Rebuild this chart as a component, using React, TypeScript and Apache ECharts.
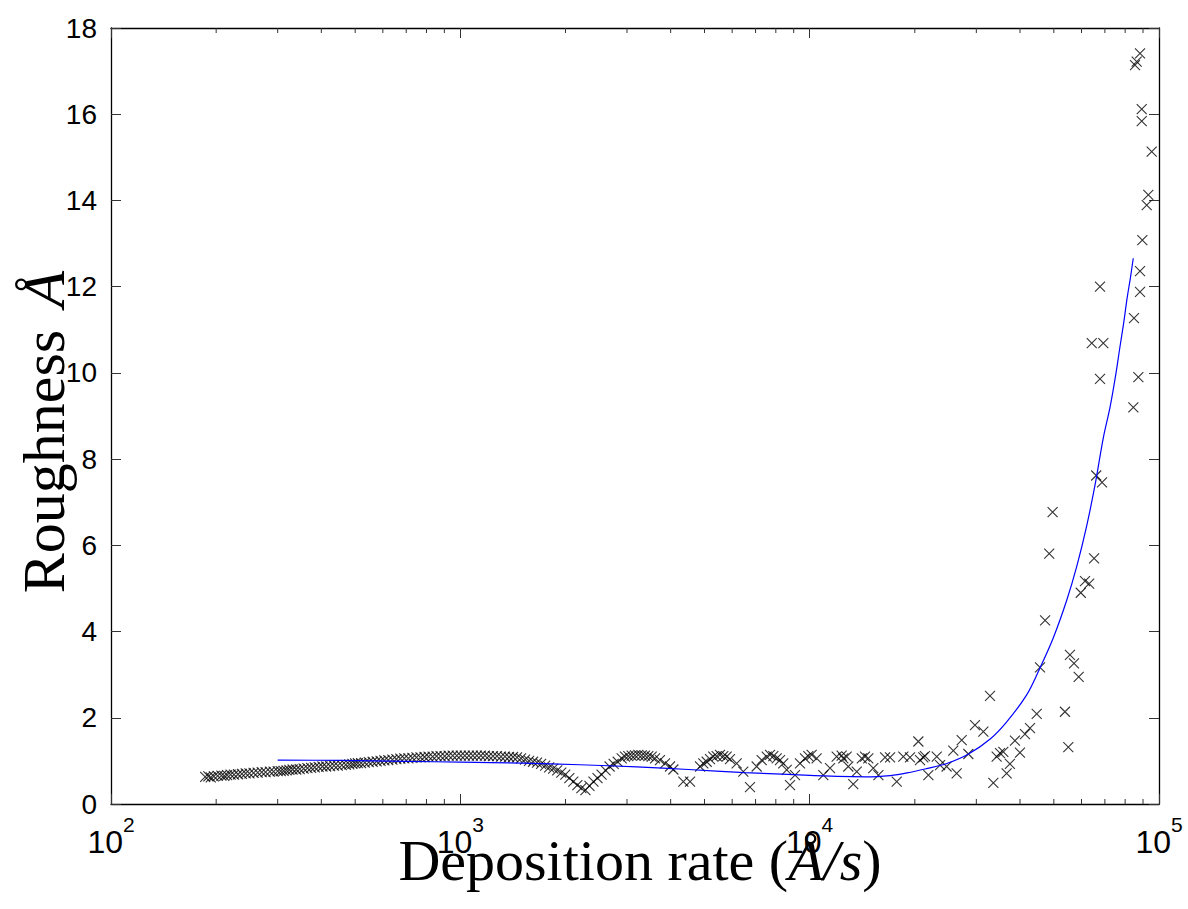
import React, { useEffect, useRef } from 'react';
import * as echarts from 'echarts';

// Measured roughness (Å) vs deposition rate (Å/s)
const bandPoints: [number, number][] = [
  [186, 0.63], [190, 0.64], [193, 0.62], [197, 0.64], [202, 0.65], [207, 0.66], [211, 0.65], [215, 0.67],
  [220, 0.68], [225, 0.68], [231, 0.69], [237, 0.7], [243, 0.71], [249, 0.71], [256, 0.72], [263, 0.73],
  [270, 0.74], [277, 0.74], [285, 0.75], [292, 0.75], [300, 0.76], [306, 0.76], [312, 0.77], [318, 0.78],
  [324, 0.79], [331, 0.8], [339, 0.8], [347, 0.81], [356, 0.82], [365, 0.83], [374, 0.84], [383, 0.85],
  [393, 0.86], [403, 0.87], [413, 0.87], [424, 0.88], [435, 0.89], [446, 0.89], [458, 0.9], [470, 0.91],
  [481, 0.92], [491, 0.93], [500, 0.94], [509, 0.95], [520, 0.95], [533, 0.96], [547, 0.97], [561, 0.98],
  [576, 0.99], [591, 1.0], [606, 1.01], [622, 1.02], [639, 1.03], [656, 1.04], [673, 1.05], [691, 1.06],
  [710, 1.06], [729, 1.07], [749, 1.08], [769, 1.08], [790, 1.09], [811, 1.1], [833, 1.1], [855, 1.11],
  [878, 1.11], [902, 1.11], [926, 1.12], [951, 1.12], [977, 1.12], [1003, 1.12], [1030, 1.12], [1058, 1.12],
  [1086, 1.12], [1115, 1.12], [1145, 1.12], [1176, 1.12], [1207, 1.11], [1240, 1.11], [1273, 1.11], [1307, 1.1],
  [1342, 1.1], [1378, 1.09], [1415, 1.09], [1453, 1.08], [1492, 1.06], [1532, 1.03], [1573, 1.0], [1615, 0.98],
  [1658, 0.96], [1703, 0.93], [1749, 0.89], [1796, 0.85], [1844, 0.82], [1894, 0.78], [1945, 0.73], [1997, 0.68],
  [2051, 0.6], [2106, 0.52], [2163, 0.44], [2221, 0.37], [2281, 0.32], [2342, 0.42], [2405, 0.52], [2470, 0.6],
  [2537, 0.68], [2605, 0.78], [2675, 0.87], [2747, 0.93], [2821, 0.98],
];

const humpPoints: [number, number][] = [
  [2897, 1.06], [2960, 1.1], [3026, 1.11], [3093, 1.12], [3162, 1.13], [3233, 1.14], [3305, 1.13], [3378, 1.12],
  [3453, 1.11], [3530, 1.1], [3609, 1.06], [3728, 1.02], [3854, 0.94], [3983, 0.87], [4072, 0.8], [4349, 0.52],
  [4545, 0.52], [4856, 0.87], [4961, 0.94], [5072, 0.98], [5184, 1.04], [5299, 1.1], [5417, 1.11], [5536, 1.14],
  [5660, 1.11], [5785, 1.1], [5914, 1.04], [6180, 0.94], [6457, 0.75], [6748, 0.39], [7051, 0.87], [7288, 1.02],
  [7533, 1.1], [7700, 1.14], [7870, 1.11], [8044, 1.06], [8224, 1.02], [8402, 0.94], [8596, 0.79], [8786, 0.44],
  [9079, 0.67], [9383, 0.94], [9696, 1.06], [9912, 1.11], [10132, 1.14], [10471, 1.06], [10941, 0.67], [11436, 0.83],
  [11947, 1.1],
];

const scatterPoints: [number, number][] = [
  [12346, 1.12], [12485, 1.06], [12760, 1.1], [12900, 0.87], [13330, 0.46], [13640, 0.75], [14100, 1.06], [14400, 1.1],
  [14720, 1.06], [15210, 0.83], [15730, 0.67], [16440, 1.08], [16990, 1.08], [17750, 0.52], [18540, 1.1], [19370, 1.08],
  [20470, 1.45], [20690, 1.02], [21150, 1.08], [21380, 1.11], [21870, 0.67], [23110, 1.1], [23620, 0.9], [24660, 0.87],
  [25770, 1.24], [26350, 0.71], [27240, 1.48], [28460, 1.16], [29730, 1.83], [31420, 1.68], [32830, 2.51], [33560, 0.49],
  [34300, 1.1], [35070, 1.18], [35840, 1.21], [36630, 0.71], [37430, 0.93], [38700, 1.47], [39990, 1.19], [41340, 1.62],
  [42730, 1.76], [44660, 2.09], [45640, 3.17], [53800, 2.14], [55000, 1.32],
];

const risePoints: [number, number][] = [
  [47200, 4.26], [48500, 5.81], [49600, 6.77], [55600, 3.46], [57100, 3.26], [58900, 2.95], [59700, 4.9], [61400, 5.17],
  [63100, 5.11], [65200, 5.7], [66100, 7.62], [68700, 7.46], [64200, 10.69], [69270, 10.69], [67780, 12.0], [67780, 9.86],
  [84440, 9.2], [84800, 11.27], [87270, 9.9], [88240, 11.88], [88240, 12.36], [89590, 13.08], [92220, 13.89], [93200, 14.13],
  [95300, 15.13], [89240, 15.84], [89240, 16.12], [85370, 17.14], [86330, 17.22], [88240, 17.41],
];

// Fitted curve
const fitX = [300, 450, 700, 1000, 1500, 2200, 3200, 4500, 6500, 9000, 12000, 14500, 17000, 19000, 21600, 24700,
  28500, 32800, 36600, 41800, 45600, 49800, 54400, 58100, 62000, 65600, 69300, 72400, 75000, 77300, 79200, 81100, 82800, 84400];
const fitY = [1.02, 1.01, 0.99, 0.97, 0.95, 0.91, 0.86, 0.8, 0.73, 0.68, 0.64, 0.63, 0.66, 0.72, 0.82, 0.94,
  1.16, 1.5, 1.9, 2.53, 3.15, 3.85, 4.72, 5.5, 6.43, 7.4, 8.5, 9.2, 9.9, 10.6, 11.15, 11.75, 12.2, 12.66];

const minorTickValues = [200, 300, 400, 500, 600, 700, 800, 900, 2000, 3000, 4000, 5000, 6000, 7000, 8000, 9000,
  20000, 30000, 40000, 50000, 60000, 70000, 80000, 90000];

const xTitle = ['Deposition rate (', 'Å/s', ')'];
const yTitle = ['Roughness', 'Å'];

const Y_MIN = 0;
const Y_MAX = 18;

export default function App() {
  const ref = useRef<HTMLDivElement>(null);
  useEffect(() => {
    const chart = echarts.init(ref.current!, null, { renderer: 'svg' });
    const sans = 'Liberation Sans, Arial, Helvetica, sans-serif';
    const serif = 'Liberation Serif, Times New Roman, serif';
    const tickStyle = { color: '#333', width: 1 };
    const axisLineStyle = { color: '#000', width: 1.3 };
    const allPoints = [...bandPoints, ...humpPoints, ...scatterPoints, ...risePoints];
    const option: any = {
      animation: false,
      backgroundColor: '#fff',
      grid: { left: 111, top: 28, right: 29, bottom: 105, containLabel: false },
      xAxis: [
        {
          type: 'log', logBase: 10, min: 100, max: 100000, position: 'bottom',
          axisLine: { show: true, onZero: false, lineStyle: axisLineStyle },
          axisTick: { show: true, inside: true, length: 10, lineStyle: tickStyle },
          splitLine: { show: false },
          axisLabel: {
            margin: 10,
            formatter: (v: number) => `{b|10}{s|${Math.round(Math.log10(v))}}`,
            rich: {
              b: { fontFamily: sans, fontSize: 32, color: '#000', lineHeight: 44, verticalAlign: 'bottom' },
              s: { fontFamily: sans, fontSize: 21, color: '#000', lineHeight: 20, verticalAlign: 'top' },
            },
          },
        },
        {
          type: 'log', logBase: 10, min: 100, max: 100000, position: 'top',
          axisLine: { show: true, onZero: false, lineStyle: axisLineStyle },
          axisTick: { show: true, inside: true, length: 10, lineStyle: tickStyle },
          splitLine: { show: false },
          axisLabel: { show: false },
        },
      ],
      yAxis: [
        {
          type: 'value', min: Y_MIN, max: Y_MAX, interval: 2, position: 'left',
          axisLine: { show: true, onZero: false, lineStyle: axisLineStyle },
          axisTick: { show: true, inside: true, length: 10, lineStyle: tickStyle },
          splitLine: { show: false },
          axisLabel: { margin: 14, fontFamily: sans, fontSize: 28, color: '#000' },
        },
        {
          type: 'value', min: Y_MIN, max: Y_MAX, interval: 2, position: 'right',
          axisLine: { show: true, onZero: false, lineStyle: axisLineStyle },
          axisTick: { show: true, inside: true, length: 10, lineStyle: tickStyle },
          splitLine: { show: false },
          axisLabel: { show: false },
        },
      ],
      series: [
        {
          type: 'custom',
          xAxisIndex: 0, yAxisIndex: 0,
          silent: true,
          clip: false,
          encode: { x: 0, y: 1 },
          data: minorTickValues.map((v) => [v, Y_MIN]),
          renderItem: (params: any, api: any) => {
            const v = api.value(0);
            const b = api.coord([v, Y_MIN]);
            const t = api.coord([v, Y_MAX]);
            const st = { stroke: '#333', lineWidth: 1 };
            return {
              type: 'group',
              children: [
                { type: 'line', shape: { x1: b[0], y1: b[1], x2: b[0], y2: b[1] - 5 }, style: st },
                { type: 'line', shape: { x1: t[0], y1: t[1], x2: t[0], y2: t[1] + 5 }, style: st },
              ],
            };
          },
        },
        {
          type: 'scatter',
          xAxisIndex: 0, yAxisIndex: 0,
          symbol: 'path://M0,0L10,10M10,0L0,10',
          symbolSize: 10,
          itemStyle: { color: 'transparent', borderColor: '#000', borderWidth: 1.1 },
          data: allPoints,
        },
        {
          type: 'line',
          xAxisIndex: 0, yAxisIndex: 0,
          showSymbol: false,
          symbol: 'none',
          smooth: 0.35,
          lineStyle: { color: '#0000ff', width: 1.2 },
          data: fitX.map((x, i) => [x, fitY[i]]),
        },
      ],
      graphic: [
        {
          type: 'text',
          x: 640, y: 860,
          style: {
            text: `{n|${xTitle[0]}}{i|${xTitle[1]}}{n|${xTitle[2]}}`,
            align: 'center', verticalAlign: 'middle',
            textAlign: 'center', textVerticalAlign: 'middle',
            rich: {
              n: { fontFamily: serif, fontSize: 58, fill: '#000' },
              i: { fontFamily: serif, fontSize: 58, fontStyle: 'italic', fill: '#000' },
            },
          },
        },
        {
          type: 'text',
          x: 44, y: 432,
          rotation: Math.PI / 2,
          style: {
            text: `{n|${yTitle[0]}}{g| }{i|${yTitle[1]}}`,
            align: 'center', verticalAlign: 'middle',
            textAlign: 'center', textVerticalAlign: 'middle',
            rich: {
              n: { fontFamily: serif, fontSize: 60, fill: '#000' },
              g: { fontFamily: serif, fontSize: 90, fill: '#000' },
              i: { fontFamily: serif, fontSize: 60, fontStyle: 'italic', fill: '#000' },
            },
          },
        },
      ],
    };
    chart.setOption(option);
    return () => chart.dispose();
  }, []);
  return (
    <div
      ref={ref}
      style={{ position: 'fixed', left: 0, top: 0, width: 1188, height: 909, background: '#fff' }}
    />
  );
}
